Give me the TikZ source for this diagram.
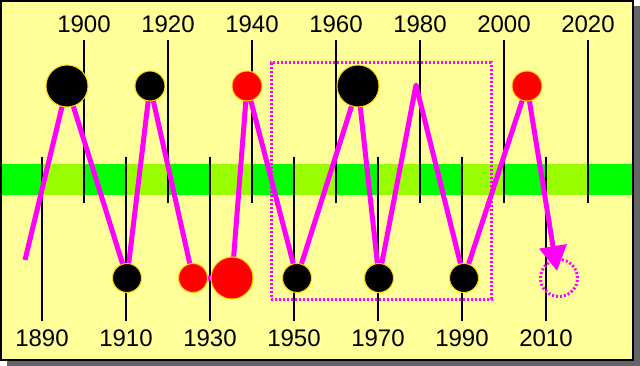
\documentclass[tikz,border=0pt]{standalone}
\usepackage{fontspec}
\setmainfont{Liberation Sans}
\usetikzlibrary{arrows.meta}
\definecolor{bgyellow}{HTML}{FFFF99}
\definecolor{shadowgray}{HTML}{646464}
\definecolor{bandgreen}{HTML}{00FF00}
\definecolor{bandlime}{HTML}{99FF00}
\definecolor{zig}{HTML}{FF00FF}
\definecolor{rim}{HTML}{FFD800}
\pgfdeclarelayer{bglayer}
\pgfdeclarelayer{ticklayer}
\pgfdeclarelayer{ziglayer}
\pgfsetlayers{bglayer,ticklayer,ziglayer,main}
\begin{document}
\begin{tikzpicture}[x=1pt,y=-1pt,
  tickline/.style={line width=1.4pt, black},
  yearlabel/.style={font=\fontsize{24}{24}\selectfont, inner sep=0pt, anchor=base},
  blackdot/.style={circle, draw=rim, line width=1pt, fill=black, inner sep=0pt, minimum size=#1},
  reddot/.style={circle, draw=rim, line width=1pt, fill=red, inner sep=0pt, minimum size=#1},
  zigline/.style={draw=zig, line width=5pt, line join=round},
  dottedmark/.style={draw=zig, line width=3pt, dash pattern=on 2pt off 2pt}
]
\useasboundingbox (0,0) rectangle (640,366);
\begin{pgfonlayer}{bglayer}
  \fill[white] (0,0) rectangle (640,366);
  \fill[shadowgray] (7,6) rectangle (640,366);
  \fill[bgyellow] (1,1) rectangle (633,360);
  \foreach \xa/\xb/\bc in {0/42/bandgreen, 42/84/bandlime, 84/126/bandgreen,
      126/168/bandlime, 168/210/bandgreen, 210/252/bandlime, 252/294/bandgreen,
      294/336/bandlime, 336/378/bandgreen, 378/420/bandlime, 420/462/bandgreen,
      462/504/bandlime, 504/546/bandgreen, 546/588/bandlime, 588/633/bandgreen}{
    \fill[\bc] (\xa,164) rectangle (\xb,195);
  }
\end{pgfonlayer}

\begin{pgfonlayer}{ticklayer}
  \foreach \xx/\yr in {84/1900,168/1920,252/1940,336/1960,420/1980,504/2000,588/2020}{
    \draw[tickline] (\xx,40) -- (\xx,203);
    \node[yearlabel] (t\yr) at (\xx,33) {\yr};
  }
  \foreach \xx/\yr in {42/1890,126/1910,210/1930,294/1950,378/1970,462/1990,546/2010}{
    \draw[tickline] (\xx,157) -- (\xx,321);
    \node[yearlabel] (b\yr) at (\xx,346) {\yr};
  }
\end{pgfonlayer}

% circles
\node[blackdot=42pt] (c1) at (67,86) {};
\node[blackdot=29pt] (c2) at (127,278) {};
\node[blackdot=30pt] (c3) at (150,86) {};
\node[reddot=29pt] (c4) at (193,278) {};
\node[reddot=42pt] (c5) at (232,278) {};
\node[reddot=30pt] (c6) at (247,86) {};
\node[blackdot=29pt] (c7) at (297,278) {};
\node[blackdot=42pt] (c8) at (358,86) {};
\node[blackdot=29pt] (c9) at (379,278) {};
\coordinate (peak) at (416,85);
\node[blackdot=29pt] (c10) at (464,278) {};
\node[reddot=30pt] (c11) at (527,86) {};
\coordinate (start) at (25,260);
\coordinate (tip) at (557,271);

\begin{pgfonlayer}{ziglayer}
  \node[dottedmark, circle, minimum size=37pt, inner sep=0pt] (target) at (559,278) {};
  \node[dottedmark, rectangle, minimum width=220pt, minimum height=236pt, inner sep=0pt] (zone) at (381,181) {};
  \draw[zigline] (start) -- (c1.center) -- (c2.center) -- (c3.center) -- (c4.center)
     -- (c5.center) -- (c6.center) -- (c7.center) -- (c8.center) -- (c9.center)
     -- (peak) -- (c10.center) -- (c11.center);
  \draw[zigline, -{Triangle[width=27pt,length=25pt]}] (c11.center) -- (tip);
\end{pgfonlayer}

\draw[black, line width=2pt] (1,1) rectangle (633,360);
\end{tikzpicture}
\end{document}
